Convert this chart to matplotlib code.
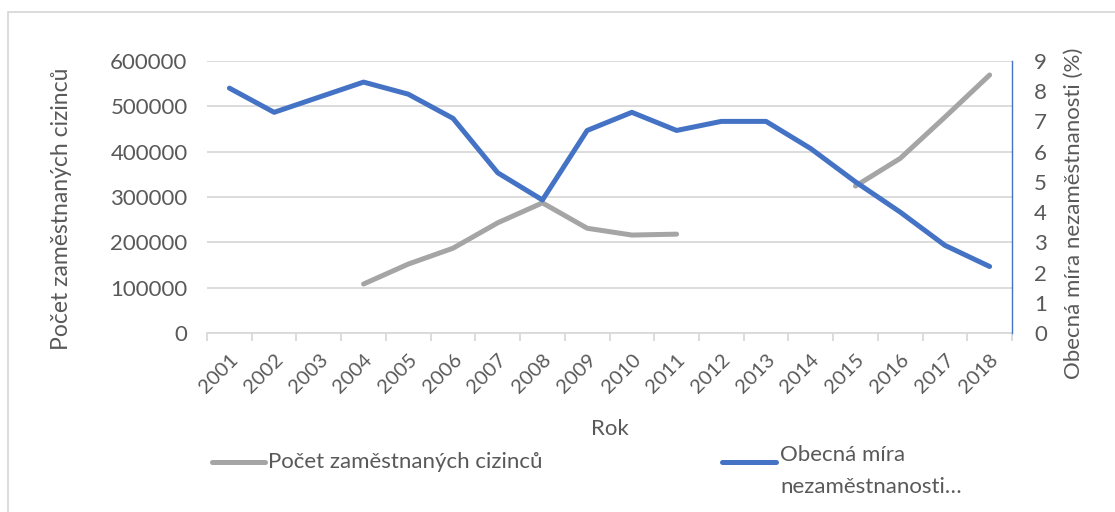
import numpy as np
import matplotlib
matplotlib.use("Agg")
import matplotlib.pyplot as plt
from matplotlib.lines import Line2D
from matplotlib.patches import Rectangle

years = [str(y) for y in range(2001, 2019)]
# employed foreigners (left axis), gaps where no data
foreigners = [np.nan, np.nan, np.nan, 108000, 152000, 187000, 243000, 287000,
              231000, 216000, 218000, np.nan, np.nan, np.nan,
              324000, 385000, 476000, 569000]
# general unemployment rate in % (right axis)
unemployment = [8.1, 7.3, 7.8, 8.3, 7.9, 7.1, 5.3, 4.4, 6.7, 7.3, 6.7,
                7.0, 7.0, 6.1, 5.0, 4.0, 2.9, 2.2]

label_foreigners = "Počet zaměstnaných cizinců"
label_unemployment = "Obecná míra\nnezaměstnanosti…"

GRAY = "#a5a5a5"
BLUE = "#4472c4"
TXT = "#595959"
GRID = "#d9d9d9"

plt.rcParams["font.family"] = ["Lato", "DejaVu Sans"]

fig = plt.figure(figsize=(11.15, 5.12), dpi=100)
ax = fig.add_axes([0.1857, 0.3496, 0.7219, 0.5314])
ax2 = ax.twinx()

x = np.arange(len(years))
ax.plot(x, foreigners, color=GRAY, lw=3.6, solid_capstyle="round", solid_joinstyle="round")
ax2.plot(x, unemployment, color=BLUE, lw=3.6, solid_capstyle="round", solid_joinstyle="round")

ax.set_xlim(-0.5, len(years) - 0.5)
ax.set_ylim(0, 600000)
ax.set_yticks(range(0, 600001, 100000))
ax2.set_ylim(0, 9)
ax2.set_yticks(range(0, 10))

ax.grid(axis="y", color=GRID, lw=1.3)
ax.set_axisbelow(True)

for a in (ax, ax2):
    for s in ("top", "left", "right", "bottom"):
        a.spines[s].set_visible(False)
ax.spines["bottom"].set_visible(True)
ax.spines["bottom"].set_color(GRID)
ax.spines["bottom"].set_linewidth(1.3)
ax2.spines["right"].set_visible(True)
ax2.spines["right"].set_color(BLUE)
ax2.spines["right"].set_linewidth(1.0)

ax.set_xticks(x)
ax.set_xticklabels(years, rotation=45, ha="right", rotation_mode="anchor")
ax.set_xticks(np.arange(-0.5, len(years)), minor=True)
ax.tick_params(axis="x", which="major", length=0, pad=13, labelsize=14.5, labelcolor=TXT)
ax.tick_params(axis="x", which="minor", length=6, color=GRID, width=1.3)
ax.tick_params(axis="y", length=0, pad=14, labelsize=16, labelcolor=TXT)
ax2.tick_params(axis="y", length=0, pad=16, labelsize=16, labelcolor=TXT)

ax.set_ylabel(label_foreigners, fontsize=16.5, color=TXT)
ax.yaxis.set_label_coords(-0.168, 0.455)
ax2.set_ylabel("Obecná míra nezaměstnanosti (%)", fontsize=16, color=TXT)
ax2.yaxis.set_label_coords(1.064, 0.44)
ax.set_xlabel("Rok", fontsize=16, color=TXT)
ax.xaxis.set_label_coords(0.5, -0.315)

# chart area border
fig.add_artist(Rectangle((8 / 1115, -0.01), 1.1, 1 - 12 / 512 + 0.01, transform=fig.transFigure,
                         fill=False, edgecolor=GRID, lw=1.3))

# legend
ly = 1 - 462 / 512
fig.add_artist(Line2D([212 / 1115, 265 / 1115], [ly, ly], transform=fig.transFigure,
                      color=GRAY, lw=3.6, solid_capstyle="round"))
fig.text(268 / 1115, ly, label_foreigners, fontsize=16, color=TXT, va="center")
fig.add_artist(Line2D([722 / 1115, 776 / 1115], [ly, ly], transform=fig.transFigure,
                      color=BLUE, lw=3.6, solid_capstyle="round"))
fig.text(780 / 1115, ly + 0.033, label_unemployment, fontsize=16, color=TXT, va="top",
         linespacing=1.75)

fig.savefig("out.png", dpi=100)
